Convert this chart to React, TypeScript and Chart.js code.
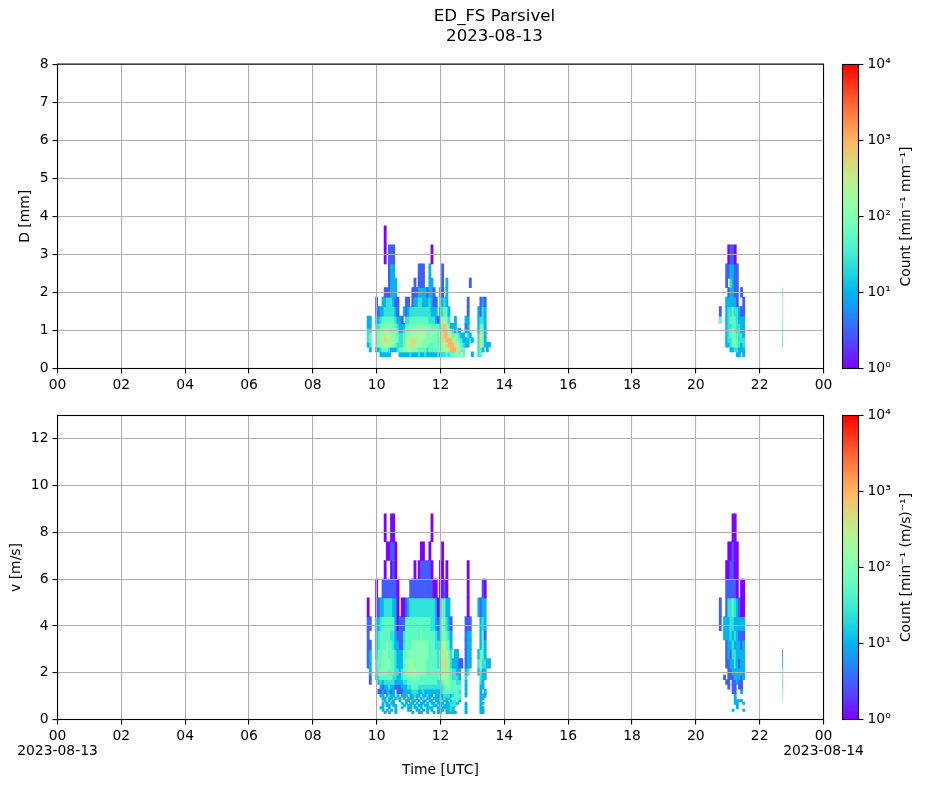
import React, { useEffect, useRef } from "react";
import { Chart, registerables } from "chart.js";

Chart.register(...registerables);

const figureTitle = ["ED_FS Parsivel", "2023-08-13"];
const hourTicks = ["00", "02", "04", "06", "08", "10", "12", "14", "16", "18", "20", "22", "00"];
const startDateLabel = "2023-08-13";
const endDateLabel = "2023-08-14";
const cbarTicks = [1, 10, 100, 1000, 10000];
const cbarTickLabels = ["10⁰", "10¹", "10²", "10³", "10⁴"];

// colour level -> count per minute per bin
const levelCounts = [0, 1, 3, 10, 25, 55, 100, 180, 400, 1000, 2500];

// bin edges of the two spectra
const dEdges = [0.3125, 0.4375, 0.5625, 0.6875, 0.8125, 0.9375, 1.0625, 1.1875, 1.375, 1.625, 1.875, 2.125, 2.375, 2.75, 3.25, 3.75];
const vEdges = [0.25, 0.35, 0.45, 0.55, 0.65, 0.75, 0.85, 0.95, 1.1, 1.3, 1.5, 1.7, 1.9, 2.2, 2.6, 3.0, 3.4, 3.8, 4.4, 5.2, 6.0, 6.8, 7.6, 8.8];

// column blocks: 0.. morning event, 100.. evening event, 200 single late column
const blockStartHour = [9.7, 20.733, 22.72];
const colHours = 1 / 15;

// each row: runs of [first column, level, level, ...]
const d00 = [[6, 3, 3, 3, 3, 3], [15, 3, 3, 3, 3, 3, 4, 3, 3, 3, 4, 3, 3, 4, 3, 3, 3, 3, 3, 4, 3, 4, 4, 5, 4, 5, 5, 6, 6, 6], [45, 5], [49, 3], [52, 4, 5], [108, 3], [109, 3], [111, 3]];
const d01 = [[1, 3], [4, 3, 3, 4, 5, 5, 5, 4, 3, 3, 3, 4, 5, 5, 6, 6, 7, 7, 6, 6, 6, 5, 5, 5, 5, 4, 5, 5, 5, 5, 5, 6, 6, 7, 7, 8, 9, 9, 9, 8, 7, 5, 5], [52, 4, 5, 3], [56, 3], [105, 3, 3, 4, 4, 3, 3, 3]];
const d02 = [[0, 3, 4], [4, 5, 6, 6, 7, 7, 7, 7, 7, 6, 5, 4, 4, 4, 5, 7, 7, 8, 8, 8, 7, 7, 7, 6, 6, 6, 5, 5, 5, 6, 5, 6, 7, 7, 8, 9, 9, 9, 8, 7, 6, 5, 4, 3, 3], [52, 4, 8, 7, 3, 3, 3], [103, 3, 3, 4, 5, 6, 5, 4, 3, 4]];
const d03 = [[0, 4, 5], [4, 5, 6, 7, 7, 8, 8, 7, 7, 7, 6, 5, 4, 4, 5, 7, 7, 8, 8, 8, 7, 7, 7, 7, 6, 6, 6, 6, 6, 6, 5, 6, 8, 8, 9, 9, 9, 8, 7, 6, 5, 4, 3, 3, 3, 4, 3], [52, 4, 8, 6, 3], [103, 3, 4, 4, 5, 6, 5, 4, 4, 4]];
const d04 = [[0, 4, 5], [4, 5, 6, 7, 7, 8, 7, 7, 7, 7, 6, 5, 4, 4, 5, 6, 7, 7, 7, 7, 7, 7, 7, 7, 7, 6, 6, 6, 6, 6, 5, 7, 8, 9, 9, 8, 7, 5, 6, 6, 4, 3, 3], [47, 4, 3], [52, 4, 8, 7, 3], [103, 3, 4, 5, 6, 5, 5, 4, 4, 3]];
const d05 = [[0, 4, 4], [4, 5, 5, 6, 6, 7, 7, 7, 6, 7, 6, 5, 3, 3, 4, 6, 6, 6, 7, 7, 7, 7, 7, 7, 7, 6, 6, 6, 6, 6, 5, 6, 8, 9, 9, 7, 6, 4, 3, 4, 3], [46, 3, 3], [52, 3, 7, 6, 3], [103, 3, 4, 5, 6, 5, 4, 4, 3, 3]];
const d06 = [[0, 3, 3], [4, 4, 4, 5, 6, 6, 6, 6, 6, 6, 5, 4, 3, 3, 3, 5, 5, 6, 6, 6, 6, 6, 6, 6, 6, 6, 6, 5, 5, 5, 5, 4, 7, 9, 8, 6, 3, 3, 3], [46, 2, 3], [52, 3, 5, 5, 3], [103, 3, 4, 4, 5, 5, 4, 4, 3, 3]];
const d07 = [[0, 3, 3], [4, 3, 3, 4, 5, 5, 5, 5, 5, 5, 4, 3, 3, 2], [18, 4, 4, 5, 5, 5, 5, 5, 5, 5, 5, 5, 4, 4, 4, 3, 2], [35, 6, 7, 7, 4], [41, 3], [46, 3, 3], [52, 3, 4, 4, 3], [100, 5], [103, 3, 4, 5, 5, 5, 4, 3, 3, 3]];
const d08 = [[4, 2, 2, 3, 3, 4, 4, 4, 4, 4, 3, 2], [17, 3, 2, 3, 4, 4, 4, 4, 4, 4, 4, 4, 4, 4, 3, 3, 3], [34, 3, 4, 5, 5, 3], [47, 2], [52, 3, 2, 4, 3], [100, 2], [103, 3, 4, 4, 5, 4, 4, 3, 2, 2]];
const d09 = [[4, 2], [7, 3, 3, 4, 4, 4, 3, 2, 2], [18, 2, 2], [21, 2, 3, 3, 4, 4, 3, 3, 3, 4, 3, 2, 2], [34, 4, 3, 4, 3], [47, 2], [53, 2, 3, 2], [103, 3, 3, 3, 3, 3, 2], [111, 2]];
const d10 = [[8, 2, 2, 2, 3, 3, 3], [21, 2, 2, 2, 3, 3, 3, 3, 2, 3, 3, 2], [34, 3, 2, 0, 3], [104, 2, 3, 3, 2, 2], [110, 2]];
const d11 = [[10, 2, 3, 3, 3], [22, 2], [24, 2, 2, 2], [29, 3, 3], [35, 2], [37, 3], [48, 2], [103, 2, 0, 4, 3, 2, 2]];
const d12 = [[10, 2, 3, 3], [24, 2, 2, 2], [29, 3], [35, 2], [103, 2, 2, 3, 3, 2, 2]];
const d13 = [[8, 1], [10, 2, 2, 2], [30, 1], [104, 1, 2, 2, 1]];
const d14 = [[8, 1]];

const v00 = [[8, 3, 0, 3, 0, 0, 3, 0, 0, 0, 0, 0, 0, 0, 3, 0, 0, 3, 3, 0, 0, 3, 0, 0, 3, 0, 3, 3, 0, 0, 3, 3, 3, 3, 3], [46, 3], [53, 3, 3]];
const v01 = [[7, 3, 0, 3, 0, 3, 0, 3, 0, 0, 0, 0, 0, 3, 3, 0, 0, 3, 3, 0, 3, 0, 3, 0, 3, 0, 0, 3, 3, 3, 0, 3, 3, 4, 3], [46, 3], [53, 3, 3], [106, 3], [111, 3]];
const v02 = [[6, 3, 3, 0, 0, 3, 0, 0, 3, 0, 0, 3, 0, 0, 3, 3, 0, 3, 3, 0, 3, 0, 0, 3, 3, 3, 0, 0, 3, 0, 3, 3, 3, 3, 4, 3], [46, 3], [53, 3, 3], [108, 3]];
const v03 = [[7, 3, 0, 3, 3, 0, 3, 3, 0, 0, 0, 3, 0, 3, 3, 0, 3, 0, 3, 3, 0, 3, 3, 0, 0, 3, 3, 0, 3, 0, 3, 3, 3, 4, 4, 4], [46, 3], [53, 3], [108, 3]];
const v04 = [[7, 3, 4, 3, 0, 3, 3, 0, 0, 0, 3, 0, 3, 0, 3, 3, 0, 3, 0, 3, 3, 0, 3, 0, 3, 3, 0, 3, 3, 3, 0, 3, 3, 4, 4, 4, 3], [46, 3], [53, 3, 3], [107, 3, 3], [111, 3]];
const v05 = [[7, 4, 3, 0, 3, 4, 3, 0, 0, 3, 0, 0, 3, 3, 0, 3, 3, 0, 3, 0, 3, 3, 0, 3, 3, 0, 3, 3, 0, 4, 3, 3, 0, 3, 4, 4, 5, 3], [53, 3], [107, 3, 3, 3, 3], [200, 6]];
const v06 = [[7, 3, 3, 0, 3, 3, 0, 3, 4, 3, 0, 3, 0, 3, 3, 3, 0, 3, 0, 3, 4, 0, 3, 3, 0, 3, 3, 3, 0, 3, 4, 3, 3, 4, 5, 5, 5, 4], [53, 3, 3], [107, 3], [200, 6]];
const v07 = [[6, 3, 3, 0, 3, 4, 3, 3, 0, 3, 0, 3, 3, 3, 0, 3, 3, 4, 3, 3, 0, 3, 3, 4, 3, 3, 0, 3, 3, 3, 3, 4, 4, 4, 3, 4, 5, 5, 5], [46, 3], [53, 3, 3], [55, 3], [107, 3], [200, 6]];
const v08 = [[5, 2, 2, 3, 2, 3, 3, 2, 3, 0, 2, 2, 2, 3, 3, 3, 3, 4, 4, 4, 3, 3, 4, 3, 3, 3, 3, 3, 3, 3, 3, 4, 5, 5, 5, 5, 5, 5, 5, 4], [46, 3], [53, 3], [55, 3], [106, 2, 2], [110, 3], [200, 6]];
const v09 = [[6, 3, 2, 3, 3, 4, 3, 3, 2, 2, 2, 3, 3, 3, 4, 4, 5, 5, 5, 4, 4, 4, 4, 4, 4, 4, 4, 4, 4, 4, 4, 5, 6, 6, 5, 5, 5, 5, 5], [46, 3], [53, 3, 3], [104, 2], [106, 2, 2], [109, 2, 2], [200, 4]];
const v10 = [[1, 2], [5, 3, 4, 3, 4, 4, 4, 4, 4, 3, 3, 3, 3, 4, 4, 5, 5, 5, 5, 5, 5, 5, 5, 5, 5, 5, 5, 5, 5, 4, 4, 5, 6, 7, 6, 5, 5, 5, 4, 4], [46, 3], [53, 4, 3], [103, 2, 2], [106, 2, 2, 3, 2, 2], [200, 4]];
const v11 = [[1, 2], [4, 3, 4, 5, 5, 5, 5, 5, 5, 4, 4, 3, 3, 4, 5, 5, 6, 6, 6, 6, 6, 6, 5, 5, 5, 5, 5, 5, 5, 5, 5, 6, 7, 7, 7, 6, 5, 4, 4, 4, 3], [46, 4], [53, 4, 3, 3], [102, 2], [104, 2, 2, 2, 3, 3, 3, 2, 3], [200, 5]];
const v12 = [[1, 3], [4, 4, 5, 6, 6, 6, 6, 5, 5, 5, 4, 4, 3, 4, 5, 6, 6, 7, 7, 7, 6, 6, 6, 6, 6, 5, 5, 5, 5, 5, 5, 5, 7, 8, 7, 6, 5, 4, 4, 3, 3], [46, 3, 4], [52, 3, 5, 3, 3], [104, 2, 2, 3, 3, 3, 3, 3, 3], [200, 5]];
const v13 = [[0, 2, 3], [4, 4, 5, 5, 6, 6, 6, 6, 5, 5, 4, 3, 3, 3, 5, 6, 6, 7, 7, 6, 6, 6, 6, 6, 6, 5, 5, 5, 5, 5, 4, 5, 7, 8, 8, 6, 4, 3, 3, 3, 2, 2], [46, 2, 3, 3], [52, 4, 6, 4, 4, 3, 3], [103, 2, 2, 3, 3, 4, 3, 2, 3, 3], [200, 3]];
const v14 = [[0, 2, 3], [4, 3, 5, 5, 6, 6, 6, 5, 5, 5, 4, 3, 3, 3, 5, 5, 6, 6, 6, 6, 6, 6, 6, 6, 6, 6, 5, 5, 5, 5, 4, 5, 7, 8, 7, 6, 4, 0, 3, 3], [46, 2, 3, 3], [52, 3, 5, 5, 3], [103, 2, 3, 2, 4, 4, 3, 3, 3, 3], [200, 2]];
const v15 = [[0, 2, 2], [4, 3, 4, 5, 5, 5, 6, 5, 5, 4, 3, 3, 2, 2, 4, 5, 5, 5, 6, 6, 6, 6, 6, 6, 6, 6, 5, 5, 5, 4, 4, 4, 7, 7, 6, 5, 3], [46, 2, 3, 3], [53, 3, 5, 3], [103, 2, 3, 3, 4, 3, 3, 3, 2, 3]];
const v16 = [[0, 2], [4, 3, 4, 5, 5, 5, 5, 5, 4, 4, 3, 2, 2, 2, 4, 5, 5, 5, 5, 5, 5, 5, 6, 5, 5, 5, 5, 5, 5, 4, 3, 3, 6, 6, 5, 4, 3], [46, 2, 3, 3], [53, 3, 5, 2], [102, 3, 3, 3, 4, 3, 4, 3, 2, 2, 2]];
const v17 = [[0, 2, 2], [4, 3, 3, 4, 5, 5, 5, 5, 5, 5, 3, 1, 2, 2, 2, 5, 5, 5, 5, 5, 5, 5, 5, 5, 5, 5, 5, 4, 4, 3, 2, 3, 6, 6, 4, 3, 2], [46, 2, 2, 2], [53, 3, 4, 3], [100, 2], [102, 3, 3, 3, 4, 4, 3, 3, 3, 3, 3]];
const v18 = [[0, 1], [4, 1, 2, 3, 3, 4, 4, 4, 4, 3, 3, 1], [16, 1, 1, 2, 3, 4, 4, 4, 4, 4, 4, 4, 4, 4, 4, 4, 4, 3, 1, 2, 5, 5, 3, 3], [47, 1], [52, 3, 2, 3, 3], [100, 2], [103, 2, 4, 4, 5, 4, 3, 2, 1, 1]];
const v19 = [[4, 1], [7, 2, 2, 2, 2, 2, 2, 2, 1], [20, 2, 2, 2, 2, 2, 2, 2, 2, 2, 2, 2, 1, 1], [34, 1, 1, 2, 1], [47, 1], [54, 2, 1], [103, 2, 2, 2, 2, 2, 1], [110, 1, 1]];
const v20 = [[8, 1], [11, 1, 2, 1], [22, 1], [24, 1, 2, 2, 2, 2, 2, 1], [34, 1, 1], [37, 1], [47, 1], [103, 1, 1, 2, 2, 1, 1]];
const v21 = [[9, 1, 1, 2, 2, 1], [25, 1, 1], [29, 1], [35, 1], [104, 1, 1, 2, 1, 1]];
const v22 = [[8, 1], [11, 1, 1], [30, 1], [106, 1, 1]];

const dRows = [d00, d01, d02, d03, d04, d05, d06, d07, d08, d09, d10, d11, d12, d13, d14];
const vRows = [v00, v01, v02, v03, v04, v05, v06, v07, v08, v09, v10, v11, v12, v13, v14, v15, v16, v17, v18, v19, v20, v21, v22];

// the single late column of the size spectrum: [row, level]
const dLate = [[2, 4], [3, 4], [4, 5], [5, 5], [6, 5], [7, 6], [8, 6], [9, 6], [10, 5]];

function colHour(col: number) {
  if (col >= 200) return blockStartHour[2];
  if (col >= 100) return blockStartHour[1] + (col - 100 + 0.5) * colHours;
  return blockStartHour[0] + (col + 0.5) * colHours;
}

function buildCells(rows: number[][][], edges: number[]) {
  const wide: any[] = [];
  const thin: any[] = [];
  rows.forEach((runs, r) => {
    runs.forEach((run) => {
      run.slice(1).forEach((level, k) => {
        if (!level) return;
        const col = run[0] + k;
        const cell = { x: colHour(col), y: [edges[r], edges[r + 1]], count: levelCounts[level] };
        (col >= 200 ? thin : wide).push(cell);
      });
    });
  });
  return { wide, thin };
}

function rainbow(t: number) {
  const x = Math.min(1, Math.max(0, t));
  const r = Math.min(1, Math.abs(2 * x - 0.5));
  const g = Math.sin(Math.PI * x);
  const b = Math.cos((Math.PI * x) / 2);
  return `rgb(${Math.round(r * 255)},${Math.round(g * 255)},${Math.round(b * 255)})`;
}

const cellColor = (ctx: any) => (ctx.raw ? rainbow(Math.log10(ctx.raw.count) / 4) : "#fff");
const FONT = "'DejaVu Sans'";
const TICK = { family: FONT, size: 13.9 };
const XTICK = { family: FONT, size: 13.9, lineHeight: 1.1 };

const frame = {
  id: "frame",
  afterDraw(chart: any) {
    const { ctx, chartArea: a } = chart;
    ctx.save();
    ctx.strokeStyle = "#000";
    ctx.lineWidth = 1.1;
    ctx.strokeRect(a.left, a.top, a.right - a.left, a.bottom - a.top);
    ctx.restore();
  },
};

function mainConfig(cells: any, opts: any) {
  return {
    type: "bar",
    data: {
      datasets: [
        { data: cells.wide, backgroundColor: cellColor, barThickness: 2.2, grouped: false, borderWidth: 0 },
        { data: cells.thin, backgroundColor: cellColor, barThickness: 0.8, grouped: false, borderWidth: 0, inflateAmount: 0 },
      ],
    },
    plugins: [frame],
    options: {
      responsive: false,
      animation: false,
      devicePixelRatio: 1,
      layout: { padding: { left: 0, right: 0, top: opts.padTop, bottom: 0 } },
      plugins: {
        legend: { display: false },
        tooltip: { enabled: false },
        title: opts.showTitle
          ? { display: true, text: figureTitle, color: "#000", font: { family: FONT, size: 16.7, weight: "normal", lineHeight: 1.2 }, padding: { top: 7, bottom: 17 } }
          : { display: false },
      },
      scales: {
        x: {
          type: "linear",
          min: 0,
          max: 24,
          offset: false,
          afterBuildTicks: (s: any) => { s.ticks = hourTicks.map((_, i) => ({ value: i * 2 })); },
          afterFit: (s: any) => { s.height = opts.xHeight; },
          grid: { offset: false, color: "#b0b0b0", lineWidth: 1.1, tickColor: "#000", tickLength: 5, tickWidth: 1.1, z: 1 },
          border: { display: false },
          ticks: {
            color: "#000",
            font: XTICK,
            padding: 4,
            maxRotation: 0,
            autoSkip: false,
            callback: (_: any, i: number) => {
              if (!opts.dates) return hourTicks[i];
              if (i === 0) return [hourTicks[i], startDateLabel];
              if (i === hourTicks.length - 1) return [hourTicks[i], endDateLabel];
              return hourTicks[i];
            },
          },
          title: opts.xTitle
            ? { display: true, text: opts.xTitle, color: "#000", font: TICK, padding: { top: 0, bottom: 9 } }
            : { display: false },
        },
        y: {
          type: "linear",
          min: 0,
          max: opts.yMax,
          afterFit: (s: any) => { s.width = 57.5; },
          grid: { color: "#b0b0b0", lineWidth: 1.1, tickColor: "#000", tickLength: 5, tickWidth: 1.1, z: 1 },
          border: { display: false },
          ticks: { color: "#000", font: TICK, padding: 4, stepSize: opts.yStep, includeBounds: false, autoSkip: false },
          title: { display: true, text: opts.yTitle, color: "#000", font: TICK, padding: { top: opts.yTitlePad, bottom: 0 } },
        },
        // empty strip that keeps the panel clear of the colour bar
        gutter: {
          type: "linear",
          position: "right",
          afterFit: (s: any) => { s.width = 165.5; },
          grid: { display: false },
          border: { display: false },
          ticks: { display: false },
        },
      },
    },
  };
}

function colorbarConfig(label: string, padTop: number, padBottom: number) {
  const sideLabel = {
    id: "sideLabel",
    afterDraw(chart: any) {
      const { ctx, chartArea: a } = chart;
      ctx.save();
      ctx.fillStyle = "#000";
      ctx.font = `13.9px ${FONT}`;
      ctx.textAlign = "center";
      ctx.textBaseline = "middle";
      ctx.translate(74, (a.top + a.bottom) / 2);
      ctx.rotate(-Math.PI / 2);
      ctx.fillText(label, 0, 0);
      ctx.restore();
    },
  };
  return {
    type: "bar",
    data: {
      labels: [""],
      datasets: [
        {
          data: [[1, 10000]],
          barPercentage: 1,
          categoryPercentage: 1,
          borderWidth: 0,
          inflateAmount: 0,
          backgroundColor: (ctx: any) => {
            const a = ctx.chart.chartArea;
            if (!a) return "#fff";
            const g = ctx.chart.ctx.createLinearGradient(0, a.bottom, 0, a.top);
            for (let i = 0; i <= 40; i++) g.addColorStop(i / 40, rainbow(i / 40));
            return g;
          },
        },
      ],
    },
    plugins: [frame, sideLabel],
    options: {
      responsive: false,
      animation: false,
      devicePixelRatio: 1,
      layout: { padding: { left: 10.5, right: 0, top: padTop, bottom: padBottom } },
      plugins: { legend: { display: false }, tooltip: { enabled: false } },
      scales: {
        x: { type: "category", display: false },
        y: {
          type: "logarithmic",
          position: "right",
          min: 1,
          max: 10000,
          afterBuildTicks: (s: any) => { s.ticks = cbarTicks.map((value) => ({ value, major: true })); },
          afterFit: (s: any) => { s.width = 68.5; },
          grid: { drawOnChartArea: false, tickColor: "#000", tickLength: 5, tickWidth: 1.1 },
          border: { display: false },
          ticks: {
            color: "#000",
            font: TICK,
            padding: 4,
            autoSkip: false,
            callback: (_: any, i: number) => cbarTickLabels[i],
          },
        },
      },
    },
  };
}

export default function App() {
  const topRef = useRef<HTMLCanvasElement>(null);
  const botRef = useRef<HTMLCanvasElement>(null);
  const cbTopRef = useRef<HTMLCanvasElement>(null);
  const cbBotRef = useRef<HTMLCanvasElement>(null);

  useEffect(() => {
    const dCells = buildCells(dRows, dEdges);
    dLate.forEach(([r, level]) => {
      dCells.thin.push({ x: colHour(200), y: [dEdges[r], dEdges[r + 1]], count: levelCounts[level] });
    });
    const vCells = buildCells(vRows, vEdges);
    const charts = [
      new Chart(topRef.current as any, mainConfig(dCells, { padTop: 0, showTitle: true, xHeight: 23.5, yMax: 8, yStep: 1, yTitle: "D [mm]", yTitlePad: 17, dates: false, xTitle: "" }) as any),
      new Chart(botRef.current as any, mainConfig(vCells, { padTop: 23.5, showTitle: false, xHeight: 68.5, yMax: 13, yStep: 2, yTitle: "v [m/s]", yTitlePad: 8, dates: true, xTitle: "Time [UTC]" }) as any),
      new Chart(cbTopRef.current as any, colorbarConfig("Count [min⁻¹ mm⁻¹]", 64.5, 23.5) as any),
      new Chart(cbBotRef.current as any, colorbarConfig("Count [min⁻¹ (m/s)⁻¹]", 23.5, 68.5) as any),
    ];
    return () => charts.forEach((c) => c.destroy());
  }, []);

  const abs = (left: number, top: number): React.CSSProperties => ({ position: "absolute", left, top });
  return (
    <div style={{ position: "absolute", left: 0, top: 0, width: 927, height: 788, overflow: "hidden", background: "#fff" }}>
      <canvas ref={topRef} width={989} height={392} style={abs(0, 0)} />
      <canvas ref={botRef} width={989} height={396} style={abs(0, 392)} />
      <canvas ref={cbTopRef} width={95} height={392} style={abs(832, 0)} />
      <canvas ref={cbBotRef} width={95} height={396} style={abs(832, 392)} />
    </div>
  );
}
